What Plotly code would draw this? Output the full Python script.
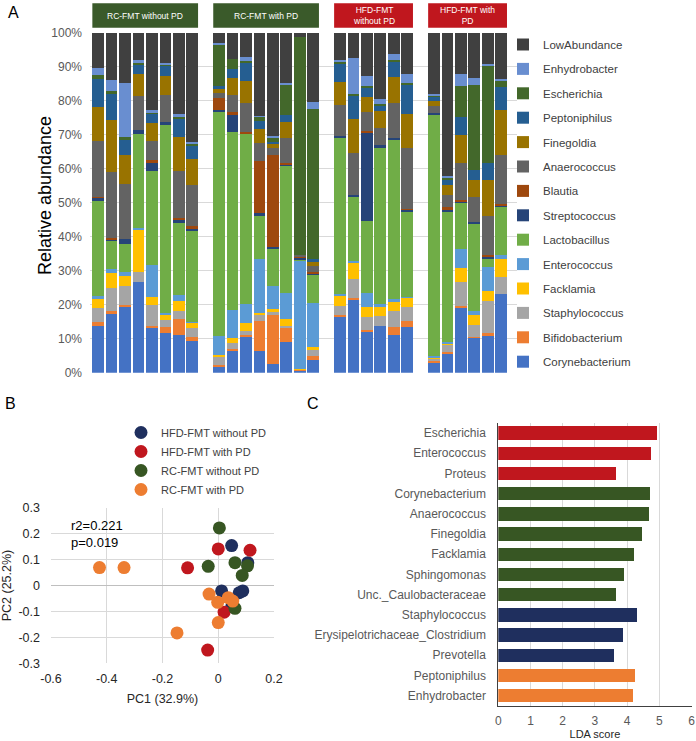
import plotly.graph_objects as go

W, H = 696, 741
FONT = "Liberation Sans, Arial, sans-serif"

# ---------------- Panel A data (percent, bottom -> top) ----------------
groups_A = ["RC-FMT without PD", "RC-FMT with PD", "HFD-FMT without PD", "HFD-FMT with PD"]
group_sizes = [8, 8, 6, 6]

genera = ["Corynebacterium", "Bifidobacterium", "Staphylococcus", "Facklamia", "Enterococcus",
          "Lactobacillus", "Streptococcus", "Blautia", "Anaerococcus", "Finegoldia",
          "Peptoniphilus", "Escherichia", "Enhydrobacter", "LowAbundance"]

corynebacterium = [13.7, 17.3, 19.4, 26.7, 13.5, 11.6, 11.1, 9.3, 2.0, 6.3, 10.6, 6.5, 2.5, 8.9, 0.8, 3.7,
                   16.3, 21.6, 12.2, 13.8, 11.1, 13.4, 3.2, 5.7, 19.4, 10.3, 11.1, 23.1]
bifidobacterium = [1.1, 0.7, 0.6, 0.0, 0.2, 1.7, 4.6, 1.2, 0.4, 0.6, 0.4, 8.6, 14.5, 4.1, 0.2, 1.2,
                   0.6, 0.3, 0.4, 0.0, 2.2, 1.9, 0.3, 0.4, 0.2, 0.3, 0.5, 0.0]
staphylococcus = [4.3, 6.9, 5.5, 2.9, 6.2, 2.1, 2.4, 2.6, 2.5, 1.7, 1.3, 1.8, 0.9, 0.8, 0.0, 2.1,
                  2.8, 5.8, 3.8, 3.0, 4.9, 4.0, 0.7, 2.0, 7.1, 3.4, 9.5, 5.1]
facklamia = [2.6, 4.5, 2.9, 12.5, 2.4, 1.7, 2.9, 1.7, 0.3, 1.5, 2.3, 0.8, 0.7, 1.9, 0.1, 0.5,
             2.8, 4.7, 3.0, 2.5, 2.6, 2.9, 0.5, 0.7, 4.0, 2.9, 2.9, 5.3]
enterococcus = [1.0, 1.0, 1.2, 0.5, 9.4, 0.4, 1.8, 0.2, 5.6, 8.3, 5.7, 15.6, 7.0, 7.6, 31.9, 12.9,
                0.7, 0.6, 4.0, 0.8, 0.9, 0.2, 0.2, 0.3, 5.8, 1.2, 7.2, 1.0]
lactobacillus = [27.7, 8.7, 8.2, 27.6, 27.6, 55.3, 21.3, 26.8, 66.2, 52.4, 50.0, 12.9, 10.7, 37.6, 0.5, 8.6,
                 45.8, 18.9, 21.2, 46.1, 46.7, 25.1, 70.9, 38.3, 13.3, 25.5, 2.6, 14.1]
streptococcus = [1.2, 0.3, 1.4, 1.2, 2.7, 1.0, 1.1, 0.8, 0.3, 5.0, 0.2, 0.9, 0.7, 0.5, 0.4, 0.4,
                 0.6, 0.5, 26.0, 0.7, 0.7, 0.5, 0.6, 0.5, 0.7, 0.8, 0.5, 0.6]
blautia = [0.1, 0.3, 0.0, 0.0, 0.5, 0.0, 0.3, 0.5, 3.6, 0.9, 0.2, 15.3, 27.0, 0.4, 0.4, 0.2,
           0.0, 0.0, 0.5, 0.0, 0.0, 0.2, 0.0, 0.8, 0.4, 0.0, 0.3, 0.4]
anaerococcus = [16.4, 19.4, 16.4, 10.0, 5.7, 7.9, 13.8, 12.1, 1.5, 5.0, 8.7, 5.3, 2.2, 7.3, 0.3, 1.9,
                9.0, 12.3, 5.7, 5.0, 10.2, 17.9, 2.1, 3.7, 10.7, 7.3, 11.5, 14.3]
finegoldia = [10.0, 15.1, 8.5, 6.6, 5.2, 5.6, 10.1, 7.8, 1.0, 5.1, 6.4, 3.9, 1.2, 4.5, 0.0, 1.2,
              7.0, 10.0, 4.4, 5.0, 7.7, 10.1, 1.4, 2.7, 8.4, 5.0, 10.5, 13.3]
peptoniphilus = [8.2, 7.9, 4.3, 2.5, 2.9, 3.2, 5.1, 3.8, 0.8, 2.4, 5.2, 2.5, 0.6, 2.2, 0.0, 0.8,
                 5.4, 6.6, 2.7, 1.8, 4.6, 8.3, 1.3, 1.7, 5.1, 3.0, 5.2, 6.8]
escherichia = [1.2, 0.7, 0.8, 0.9, 0.2, 0.3, 0.7, 0.5, 12.4, 3.1, 0.6, 1.3, 1.3, 9.0, 64.1, 44.0,
               0.4, 0.6, 0.5, 0.2, 0.3, 0.6, 0.5, 0.7, 9.1, 24.9, 28.5, 2.1]
enhydrobacter = [2.0, 3.2, 16.1, 0.5, 0.8, 0.4, 1.0, 0.7, 0.4, 0.0, 1.3, 0.2, 0.2, 0.3, 0.0, 2.1,
                 0.6, 10.7, 2.8, 1.5, 1.9, 2.7, 0.4, 0.5, 3.8, 2.1, 0.6, 0.3]
lowabundance = [10.5, 14.0, 14.7, 8.1, 22.7, 8.8, 23.8, 32.0, 3.0, 7.7, 7.1, 24.4, 30.5, 14.9, 1.3, 20.4,
                8.0, 7.4, 12.8, 19.6, 6.2, 12.2, 17.9, 42.0, 12.0, 13.3, 9.1, 13.6]

yticks_A = [0, 10, 20, 30, 40, 50, 60, 70, 80, 90, 100]
yticklabels_A = ["0%", "10%", "20%", "30%", "40%", "50%", "60%", "70%", "80%", "90%", "100%"]

# ---------------- Panel B data ----------------
pcoa_groups = ["HFD-FMT without PD", "HFD-FMT with PD", "RC-FMT without PD", "RC-FMT with PD"]
hfd_without_pc1 = [0.048, 0.106, 0.012, 0.075, 0.088, 0.048]
hfd_without_pc2 = [0.154, 0.088, -0.021, -0.028, -0.021, -0.082]
hfd_with_pc1 = [0.000, 0.114, -0.110, 0.021, -0.038]
hfd_with_pc2 = [0.141, 0.136, 0.068, -0.103, -0.249]
rc_without_pc1 = [0.004, 0.060, 0.105, 0.086, -0.036, 0.060]
rc_without_pc2 = [0.222, 0.088, 0.076, 0.039, 0.074, -0.088]
rc_with_pc1 = [-0.426, -0.338, -0.033, 0.036, 0.052, -0.002, 0.000, -0.148]
rc_with_pc2 = [0.069, 0.069, -0.033, -0.047, -0.060, -0.065, -0.143, -0.183]
xticks_B = [-0.6, -0.4, -0.2, 0, 0.2]
xticklabels_B = ["-0.6", "-0.4", "-0.2", "0", "0.2"]
yticks_B = [-0.3, -0.2, -0.1, 0, 0.1, 0.2, 0.3]
yticklabels_B = ["-0.3", "-0.2", "-0.1", "0", "0.1", "0.2", "0.3"]

# ---------------- Panel C data ----------------
lda_taxa = ["Escherichia", "Enterococcus", "Proteus", "Corynebacterium", "Anaerococcus", "Finegoldia",
            "Facklamia", "Sphingomonas", "Unc._Caulobacteraceae", "Staphylococcus",
            "Erysipelotrichaceae_Clostridium", "Prevotella", "Peptoniphilus", "Enhydrobacter"]
lda_scores = [4.94, 4.74, 3.65, 4.72, 4.67, 4.47, 4.20, 3.89, 3.65, 4.30, 3.87, 3.60, 4.23, 4.17]
lda_group = ["HFD-FMT with PD"] * 3 + ["RC-FMT without PD"] * 6 + ["HFD-FMT without PD"] * 3 + ["RC-FMT with PD"] * 2

# ---------------- styles ----------------
genus_colors = {
    "Corynebacterium": "#4472C4", "Bifidobacterium": "#ED7D31", "Staphylococcus": "#A5A5A5",
    "Facklamia": "#FFC000", "Enterococcus": "#5B9BD5", "Lactobacillus": "#70AD47",
    "Streptococcus": "#264478", "Blautia": "#9E480E", "Anaerococcus": "#636363",
    "Finegoldia": "#997300", "Peptoniphilus": "#255E91", "Escherichia": "#43682B",
    "Enhydrobacter": "#698ED0", "LowAbundance": "#404040",
}
group_colors = {"HFD-FMT without PD": "#1F2F5E", "HFD-FMT with PD": "#C0171E",
                "RC-FMT without PD": "#375623", "RC-FMT with PD": "#ED7D31"}
header_colors = ["#3A5A2A", "#3A5A2A", "#C0171E", "#C0171E"]
header_texts = ["RC-FMT without PD", "RC-FMT with PD", "HFD-FMT<br>without PD", "HFD-FMT with<br>PD"]

def px_x(p):
    return p / W

def px_y(p):
    return 1 - p / H

# bar slot positions, one empty slot between groups
positions = []
group_ranges = []
pos = 0
for n in group_sizes:
    group_ranges.append((pos, pos + n - 1))
    positions.extend(range(pos, pos + n))
    pos += n + 1

series = [corynebacterium, bifidobacterium, staphylococcus, facklamia, enterococcus, lactobacillus,
          streptococcus, blautia, anaerococcus, finegoldia, peptoniphilus, escherichia,
          enhydrobacter, lowabundance]

fig = go.Figure()
for i, (name, vals) in enumerate(zip(genera, series)):
    fig.add_trace(go.Bar(x=positions, y=vals, name=name, marker=dict(color=genus_colors[name], line=dict(width=0)),
                         xaxis="x", yaxis="y", legend="legend", legendgroup=name, legendrank=100 - i,
                         width=0.87, hovertemplate=name + ": %{y}%<extra></extra>"))

pc_data = [(hfd_without_pc1, hfd_without_pc2), (hfd_with_pc1, hfd_with_pc2),
           (rc_without_pc1, rc_without_pc2), (rc_with_pc1, rc_with_pc2)]
for g, (xs, ys) in zip(pcoa_groups, pc_data):
    fig.add_trace(go.Scatter(x=xs, y=ys, mode="markers", name=g, xaxis="x2", yaxis="y2", legend="legend2",
                             marker=dict(size=13, color=group_colors[g], line=dict(width=0))))

fig.add_trace(go.Bar(x=lda_scores, y=lda_taxa, orientation="h", xaxis="x3", yaxis="y3", showlegend=False,
                     marker=dict(color=[group_colors[g] for g in lda_group], line=dict(width=0)), width=0.66))

shapes = []
annotations = []
for (a, b), col, txt in zip(group_ranges, header_colors, header_texts):
    shapes.append(dict(type="rect", xref="x", yref="paper", x0=a - 0.435, x1=b + 0.435,
                       y0=px_y(27.7), y1=px_y(3.3), fillcolor=col, line=dict(width=0), layer="above"))
    annotations.append(dict(x=(a + b) / 2, y=px_y(15.5), xref="x", yref="paper", text=txt, showarrow=False,
                            font=dict(size=8.5, color="white", family=FONT), xanchor="center", yanchor="middle"))

annotations += [
    dict(x=px_x(6), y=px_y(12), xref="paper", yref="paper", text="A", showarrow=False,
         font=dict(size=16, color="black"), xanchor="left", yanchor="middle"),
    dict(x=px_x(3), y=px_y(403), xref="paper", yref="paper", text="B", showarrow=False,
         font=dict(size=16, color="black"), xanchor="left", yanchor="middle"),
    dict(x=px_x(305), y=px_y(403), xref="paper", yref="paper", text="C", showarrow=False,
         font=dict(size=16, color="black"), xanchor="left", yanchor="middle"),
    dict(x=px_x(45), y=px_y(196), xref="paper", yref="paper", text="Relative abundance", showarrow=False,
         textangle=-90, font=dict(size=18, color="black"), xanchor="center", yanchor="middle"),
    dict(x=px_x(69), y=px_y(534), xref="paper", yref="paper", text="r2=0.221<br>p=0.019", showarrow=False,
         font=dict(size=13, color="black"), xanchor="left", yanchor="middle", align="left"),
]

grid = "#D9D9D9"
fig.update_layout(
    width=W, height=H, margin=dict(l=0, r=0, t=0, b=0, autoexpand=False),
    paper_bgcolor="white", plot_bgcolor="white",
    font=dict(family=FONT, color="#404040"),
    barmode="stack", bargap=0.13,
    shapes=shapes, annotations=annotations,
    xaxis=dict(domain=[px_x(90), px_x(517)], range=[-0.61, 31.18], showticklabels=False, showgrid=False,
               zeroline=False, showline=False, ticks="", automargin=False),
    yaxis=dict(domain=[px_y(372.7), px_y(32.7)], range=[0, 100], tickvals=yticks_A, ticktext=yticklabels_A,
               showgrid=True, gridcolor=grid, zeroline=False, showline=False, automargin=False,
               tickfont=dict(size=12, color="#595959"), ticklabelstandoff=7),
    xaxis2=dict(domain=[px_x(51), px_x(274)], range=[-0.6, 0.2], tickvals=xticks_B, ticktext=xticklabels_B,
                showgrid=True, gridcolor=grid, zeroline=False, showline=False, anchor="y2", automargin=False,
                tickfont=dict(size=12.5, color="#262626"), ticklabelstandoff=6,
                title=dict(text="PC1 (32.9%)", font=dict(size=12.5, color="#262626"), standoff=9)),
    yaxis2=dict(domain=[px_y(663.3), px_y(507.7)], range=[-0.3, 0.3], tickvals=yticks_B, ticktext=yticklabels_B,
                showgrid=True, gridcolor=grid, zeroline=True, zerolinecolor="#BFBFBF", zerolinewidth=1,
                showline=False, anchor="x2", automargin=False,
                tickfont=dict(size=12.5, color="#262626"), ticklabelstandoff=10,
                title=dict(text="PC2 (25.2%)", font=dict(size=12.5, color="#262626"), standoff=4)),
    xaxis3=dict(domain=[px_x(498.3), px_x(691.5)], range=[0, 6], dtick=1, anchor="y3", automargin=False,
                showgrid=True, gridcolor=grid, zeroline=False, showline=True, linecolor="#404040", linewidth=1,
                tickfont=dict(size=12, color="#595959"), ticklabelstandoff=4,
                title=dict(text="LDA score", font=dict(size=11, color="#262626"), standoff=3)),
    yaxis3=dict(domain=[px_y(705.7), px_y(423)], range=[13.5, -0.5], type="category", anchor="x3",
                categoryorder="array", categoryarray=lda_taxa, automargin=False,
                showgrid=False, zeroline=False, showline=True, linecolor="#404040", linewidth=1,
                tickfont=dict(size=12, color="#595959"), ticklabelstandoff=9),
    legend=dict(x=px_x(503), y=px_y(30), xanchor="left", yanchor="top", traceorder="grouped",
                tracegroupgap=5.4, font=dict(size=11.5, color="#404040"), bgcolor="rgba(0,0,0,0)",
                itemclick=False, itemdoubleclick=False),
    legend2=dict(x=px_x(121), y=px_y(418), xanchor="left", yanchor="top", traceorder="normal",
                 font=dict(size=11, color="#404040"), bgcolor="rgba(0,0,0,0)", tracegroupgap=0),
)

fig.write_html("out.html", config={"displayModeBar": False},
               post_script="document.body.style.margin='0';")
